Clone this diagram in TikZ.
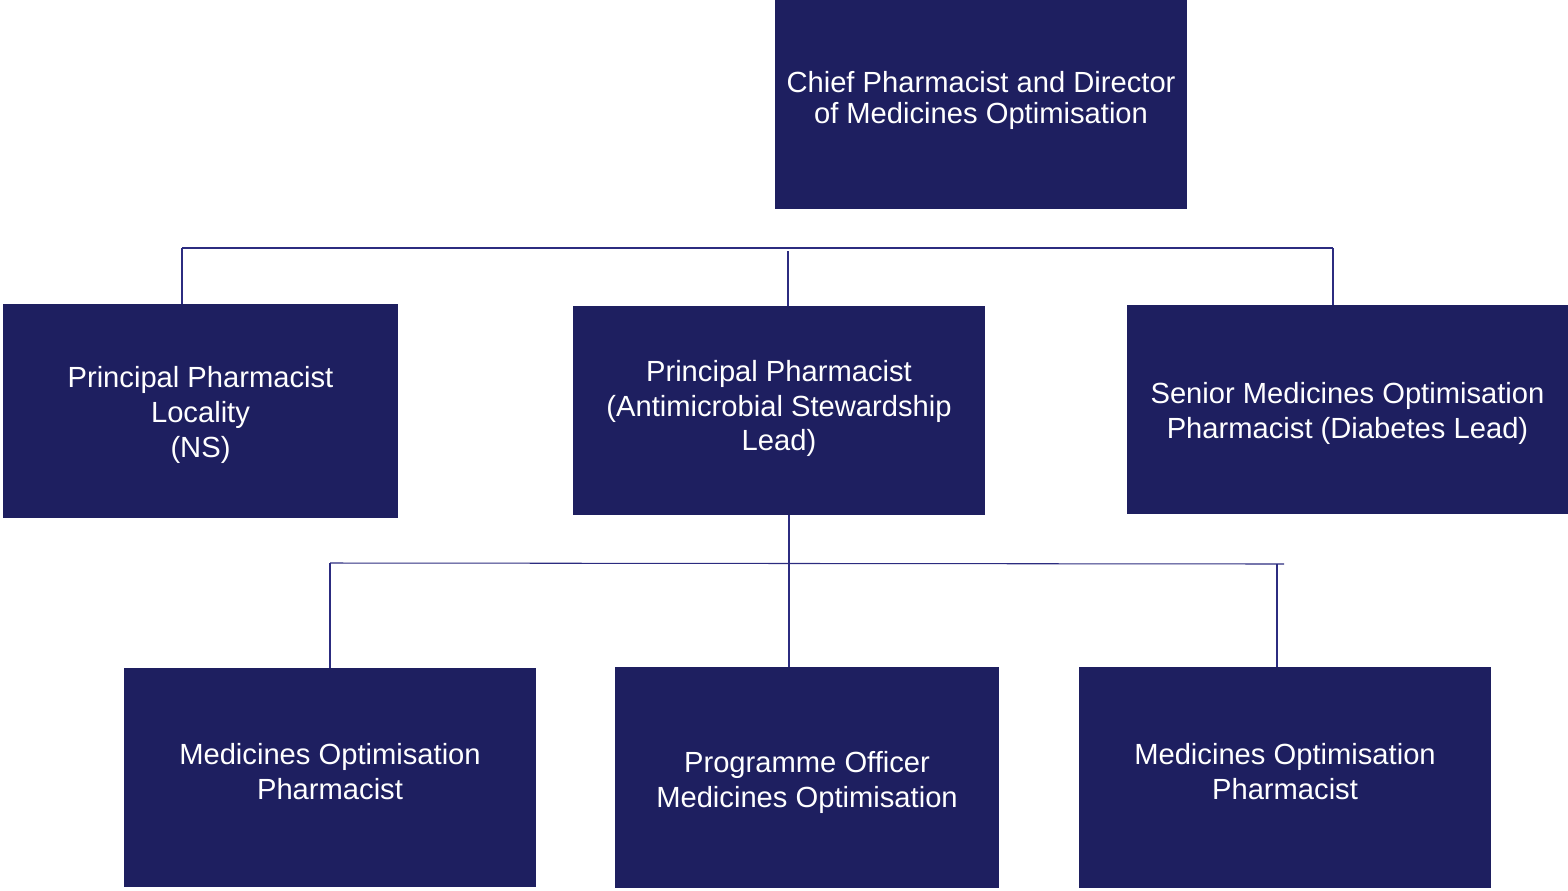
\documentclass[tikz,border=0pt]{standalone}
\usepackage{fontspec}
\setmainfont{Liberation Sans}
\usepackage{tikz}
\usetikzlibrary{positioning, calc}
\definecolor{navy}{RGB}{30,31,96}
\definecolor{linkblue}{RGB}{44,44,128}

\begin{document}
\begin{tikzpicture}[x=0.02cm, y=-0.02cm]
    \tikzstyle{role} = [rectangle, fill=navy, text=white, align=center, inner sep=0pt, font=\fontsize{16.6}{19.8}\selectfont]
    \tikzstyle{link} = [draw=linkblue, line width=0.6pt]
    \useasboundingbox (0,0) rectangle (1568,890);

    \node[role, minimum width=8.24cm, minimum height=4.18cm, font=\fontsize{16.6}{17.6}\selectfont] (chief) at (981,104.5) {Chief Pharmacist and Director\\of Medicines Optimisation\rule[-0.28cm]{0pt}{0pt}};
    \node[role, minimum width=7.9cm, minimum height=4.28cm] (locality) at (200.5,411) {\rule{0pt}{0.58cm}Principal Pharmacist\\Locality\\(NS)};
    \node[role, minimum width=8.24cm, minimum height=4.18cm] (amr) at (779,410.5) {Principal Pharmacist\\(Antimicrobial Stewardship\\Lead)\rule[-0.2cm]{0pt}{0pt}};
    \node[role, minimum width=8.82cm, minimum height=4.18cm] (diabetes) at (1347.5,409.5) {\rule{0pt}{0.58cm}Senior Medicines Optimisation\\Pharmacist (Diabetes Lead)};
    \node[role, minimum width=8.24cm, minimum height=4.38cm] (mopleft) at (330,777.5) {Medicines Optimisation\\Pharmacist\rule[-0.24cm]{0pt}{0pt}};
    \node[role, minimum width=7.68cm, minimum height=4.42cm] (progofficer) at (807,777.5) {\rule{0pt}{0.63cm}Programme Officer\\Medicines Optimisation};
    \node[role, minimum width=8.24cm, minimum height=4.42cm] (mopright) at (1285,777.5) {Medicines Optimisation\\Pharmacist\rule[-0.24cm]{0pt}{0pt}};

    % upper bus
    \coordinate (busA) at (182,248);
    \coordinate (busB) at (1333,248);
    \coordinate (busAmr) at (788,251);
    \draw[link] (busA) -- (busB);
    \draw[link] (busA) -- (busA |- locality.north);
    \draw[link] (busAmr) -- (busAmr |- amr.north);
    \draw[link] (busB) -- (busB |- diabetes.north);

    % lower bus
    \coordinate (busC) at (330,563);
    \coordinate (busD) at (1284,564);
    \coordinate (busMid) at (789,563);
    \coordinate (busRight) at (1277,564);
    \draw[link] (busC) -- (busD);
    \draw[link] (busMid |- amr.south) -- (busMid);
    \draw[link] (busC) -- (busC |- mopleft.north);
    \draw[link] (busMid) -- (busMid |- progofficer.north);
    \draw[link] (busRight) -- (busRight |- mopright.north);
\end{tikzpicture}
\end{document}
